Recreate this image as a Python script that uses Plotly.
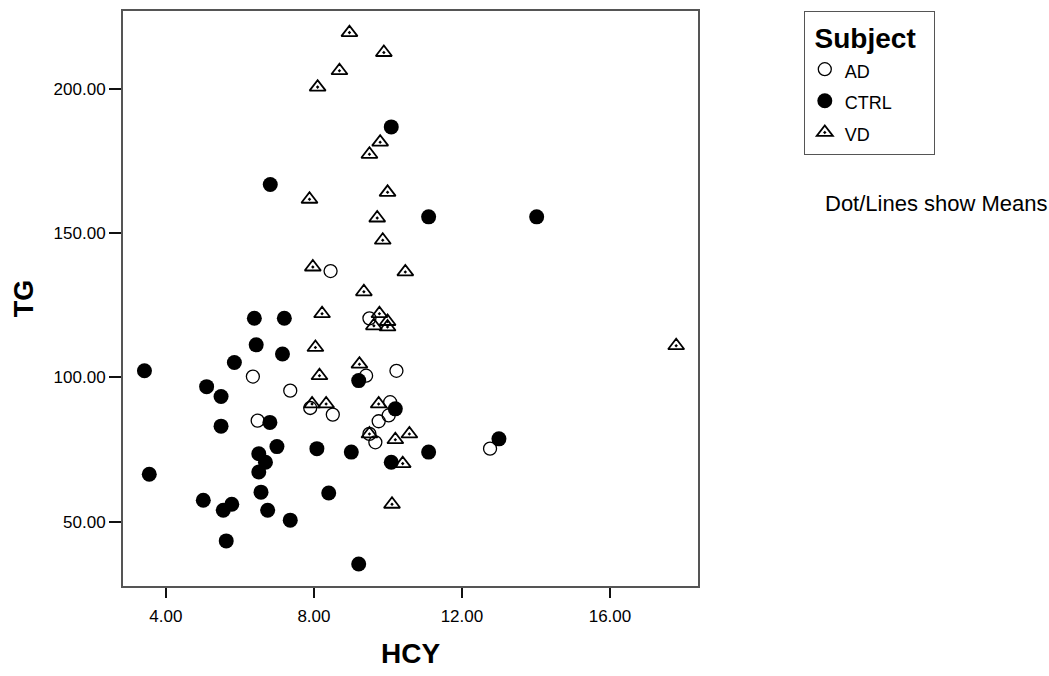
import plotly.graph_objects as go

# ---- data ----
ad_hcy = [8.45, 9.50, 6.35, 9.41, 10.23, 7.36, 7.90, 8.51, 10.06, 10.02, 9.75, 6.48, 9.50, 9.66, 12.76]
ad_tg = [136.9, 120.5, 100.3, 100.6, 102.3, 95.4, 89.4, 87.1, 91.4, 86.8, 84.8, 85.0, 80.4, 77.5, 75.3]

ctrl_hcy = [10.09, 6.82, 11.10, 14.02, 6.39, 7.20, 6.44, 7.15, 5.85, 3.42, 9.21, 5.10, 5.49, 10.20,
            5.49, 6.81, 7.00, 6.51, 6.69, 6.51, 8.08, 9.01, 11.10, 10.09, 13.00, 3.55, 6.57, 8.40,
            5.01, 5.55, 5.78, 6.75, 7.36, 5.63, 9.21]
ctrl_tg = [186.9, 166.9, 155.7, 155.7, 120.5, 120.5, 111.3, 108.1, 105.2, 102.3, 98.9, 96.8, 93.4, 89.1,
           83.1, 84.4, 76.0, 73.5, 70.6, 67.2, 75.3, 74.1, 74.1, 70.6, 78.7, 66.4, 60.2, 59.9,
           57.4, 53.9, 56.0, 53.9, 50.5, 43.3, 35.3]

vd_hcy = [8.96, 9.89, 8.69, 8.10, 9.79, 9.50, 9.99, 7.88, 9.71, 9.86, 7.97, 10.47, 9.35, 8.22, 9.77,
          9.62, 9.99, 9.99, 8.04, 17.79, 9.23, 8.15, 7.95, 8.33, 9.75, 9.50, 10.20, 10.58, 10.40, 10.11]
vd_tg = [219.6, 212.7, 206.4, 200.7, 181.6, 177.4, 164.2, 161.8, 155.3, 147.6, 138.3, 136.6, 129.7, 122.1, 122.1,
         117.9, 119.4, 117.5, 110.4, 111.0, 104.6, 100.6, 90.8, 90.8, 90.8, 80.4, 78.4, 80.4, 70.1, 56.0]

groups = ["AD", "CTRL", "VD"]
x_ticks = [4, 8, 12, 16]
y_ticks = [50, 100, 150, 200]

FONT = "Liberation Sans, Arial, sans-serif"


def legend_name(name):
    return f"<span style='font-size:18px'>{name}</span>"


fig = go.Figure()
fig.add_trace(go.Scatter(x=ad_hcy, y=ad_tg, mode="markers", name=legend_name(groups[0]),
                         marker=dict(symbol="circle-open", size=13, color="black", line=dict(width=1.3))))
fig.add_trace(go.Scatter(x=ctrl_hcy, y=ctrl_tg, mode="markers", name=legend_name(groups[1]),
                         marker=dict(symbol="circle", size=15, color="black")))
fig.add_trace(go.Scatter(x=vd_hcy, y=vd_tg, mode="markers", name=legend_name(groups[2]),
                         marker=dict(symbol="triangle-up-open-dot", size=14, color="black", line=dict(width=1.8))))

fig.update_layout(
    width=1049, height=676,
    margin=dict(l=123, r=351, t=9, b=90),
    paper_bgcolor="white", plot_bgcolor="white",
    font=dict(family=FONT, color="black"),
    showlegend=True,
    legend=dict(
        x=1.184, y=1.0, xanchor="left", yanchor="top",
        bordercolor="#555555", borderwidth=1, bgcolor="white",
        title=dict(text="&nbsp;<b>Subject</b>&nbsp;&nbsp;", font=dict(size=28, family=FONT)),
        font=dict(size=22, family=FONT),
        tracegroupgap=0, itemwidth=30,
    ),
    xaxis=dict(
        range=[2.84, 18.38], tickvals=x_ticks, ticktext=[f"{v:.2f}" for v in x_ticks],
        showgrid=False, zeroline=False, showline=True, mirror=True,
        linecolor="#555555", linewidth=2,
        ticks="outside", ticklen=10, tickwidth=2, tickcolor="#111111",
        ticklabelstandoff=4,
        tickfont=dict(size=17, family=FONT),
        title=dict(text="<b>HCY</b>", font=dict(size=28, family=FONT), standoff=18),
    ),
    yaxis=dict(
        range=[27.65, 227.1], tickvals=y_ticks, ticktext=[f"{v:.2f}" for v in y_ticks],
        showgrid=False, zeroline=False, showline=True, mirror=True,
        linecolor="#555555", linewidth=2,
        ticks="outside", ticklen=12, tickwidth=2, tickcolor="#111111",
        tickfont=dict(size=17, family=FONT),
        title=dict(text="<b>TG</b>", font=dict(size=27, family=FONT), standoff=12),
    ),
    annotations=[dict(
        text="Dot/Lines show Means", xref="paper", yref="paper",
        x=1.217, y=0.6655, xanchor="left", yanchor="middle", showarrow=False,
        font=dict(size=22, family=FONT, color="black"),
    )],
)

fig.write_html("out.html")
